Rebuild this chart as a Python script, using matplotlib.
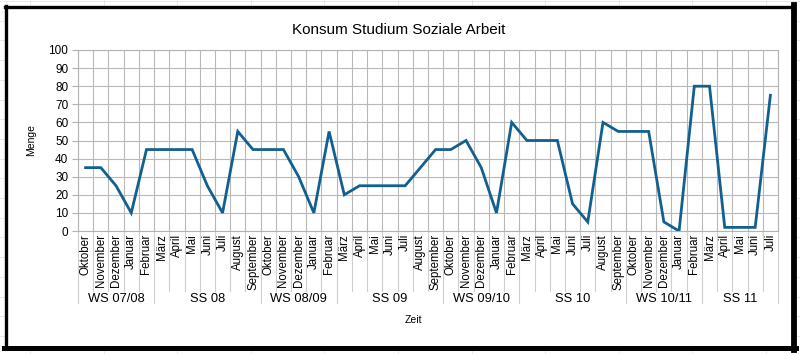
import matplotlib
matplotlib.use("Agg")
import matplotlib.pyplot as plt
from matplotlib.lines import Line2D
import numpy as np

plt.rcParams['font.family'] = ['Liberation Sans', 'DejaVu Sans']

# Daten: Semester und Monate
semester = ["WS 07/08", "SS 08", "WS 08/09", "SS 09", "WS 09/10", "SS 10", "WS 10/11", "SS 11"]
ws_monate = ["Oktober", "November", "Dezember", "Januar", "Februar"]
ss_monate = ["März", "April", "Mai", "Juni", "Juli", "August", "September"]
ss11_monate = ["März", "April", "Mai", "Juni", "Juli"]
monate_je_semester = [ws_monate, ss_monate, ws_monate, ss_monate,
                      ws_monate, ss_monate, ws_monate, ss11_monate]

menge = [35, 35, 25, 10, 45,
         45, 45, 45, 25, 10, 55, 45,
         45, 45, 30, 10, 55,
         20, 25, 25, 25, 25, 35, 45,
         45, 50, 35, 10, 60,
         50, 50, 50, 15, 5, 60, 55,
         55, 55, 5, 0, 80,
         80, 2, 2, 2, 75]

monate = [m for grp in monate_je_semester for m in grp]
n = len(monate)
x = np.arange(n)

W, H = 800, 354
fig = plt.figure(figsize=(W / 100, H / 100), dpi=100)

def fx(px):
    return px / W

def fy(py):
    return 1 - py / H

# blasses Tabellenraster hinter dem Diagrammrahmen
for yy in np.arange(1, H, 19.7):
    fig.add_artist(Line2D([0, 1], [fy(yy)] * 2, color="#e4e4e4", lw=0.6, zorder=0))
for xx in np.arange(30, W, 73.6):
    fig.add_artist(Line2D([fx(xx)] * 2, [0, 1], color="#e4e4e4", lw=0.6, zorder=0))
fig.add_artist(plt.Rectangle((fx(6), fy(347)), fx(792) - fx(6), fy(7) - fy(347),
                             facecolor="white", edgecolor="none", zorder=0.5))

# Rahmen
fig.add_artist(Line2D([fx(5.5), fx(5.5)], [fy(6), fy(348)], color="black", lw=2.4, zorder=5))
fig.add_artist(Line2D([fx(5), fx(794)], [fy(6.5), fy(6.5)], color="black", lw=2.4, zorder=5))
fig.add_artist(Line2D([fx(793.5), fx(793.5)], [fy(5), fy(350)], color="black", lw=4.2, zorder=5))
fig.add_artist(Line2D([fx(4), fx(796)], [fy(347.5), fy(347.5)], color="black", lw=3.6, zorder=5))

left, right, top, bottom = 78, 778, 50, 231
ax = fig.add_axes([fx(left), fy(bottom), fx(right) - fx(left), fy(top) - fy(bottom)])
ax.set_zorder(2)

ax.plot(x, menge, color="#135f90", lw=2.0, solid_joinstyle="miter", zorder=3)

ax.set_xlim(-0.5, n - 0.5)
ax.set_ylim(0, 100)
ax.set_yticks(np.arange(0, 101, 10))
ax.set_xticks(np.arange(n + 1) - 0.5)
ax.set_xticklabels([])
ax.tick_params(axis="x", length=0)
ax.tick_params(axis="y", length=4, width=0.8, color="#b3b3b3", labelsize=8.5, pad=3)
ax.grid(True, color="#b8b8b8", lw=0.8)
ax.set_axisbelow(True)
for s in ax.spines.values():
    s.set_color("#b3b3b3")
    s.set_linewidth(0.8)

# Monatsbeschriftungen
for i, m in enumerate(monate):
    fig.text(fx(left + (i + 0.5) * (right - left) / n), fy(234), m, rotation=90,
             ha="center", va="top", fontsize=8.3, zorder=3)

# Trennlinien und Semestergruppen
pos = 0
bounds = [0]
for grp in monate_je_semester:
    pos += len(grp)
    bounds.append(pos)
for b in range(n + 1):
    xp = fx(left + b * (right - left) / n)
    yend = 303 if b in bounds else 291
    fig.add_artist(Line2D([xp, xp], [fy(231), fy(yend)], color="#cfcfcf", lw=0.8, zorder=1))
for k, name in enumerate(semester):
    c = (bounds[k] + bounds[k + 1]) / 2
    fig.text(fx(left + c * (right - left) / n), fy(299), name, ha="center", va="center",
             fontsize=9.3, zorder=3)

fig.text(fx(31), fy(140), "Menge", rotation=90, ha="center", va="center", fontsize=7.5, zorder=3)
fig.text(fx(413), fy(320), "Zeit", ha="center", va="center", fontsize=7.5, zorder=3)
fig.text(fx(399), fy(30), "Konsum Studium Soziale Arbeit", ha="center", va="center",
         fontsize=11, zorder=3)

fig.savefig("out.png", dpi=100)
